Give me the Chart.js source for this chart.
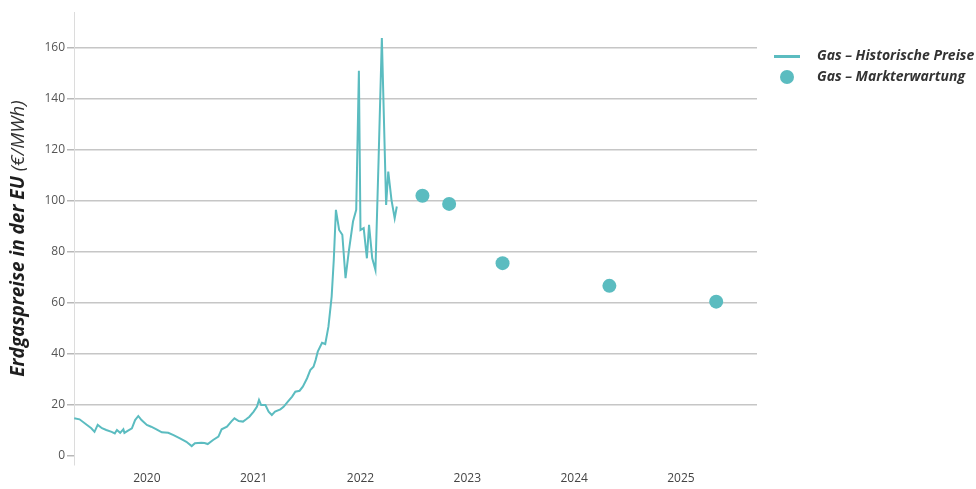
<!DOCTYPE html>
<html>
<head>
<meta charset="utf-8">
<script src="https://cdn.jsdelivr.net/npm/chart.js@4.4.1/dist/chart.umd.min.js"></script>
<style>
  html, body { margin: 0; padding: 0; background: #fff; }
  #wrap { width: 976px; height: 489px; }
</style>
</head>
<body>
<div id="wrap"><canvas id="gasChart" width="976" height="489"></canvas></div>
<script>
// historische Preise (Jahr als Dezimalzahl)
const histYears = [2019.32, 2019.37, 2019.44, 2019.48, 2019.51, 2019.54, 2019.58, 2019.62, 2019.67, 2019.70,
    2019.72, 2019.75, 2019.78, 2019.79, 2019.82, 2019.86, 2019.89, 2019.92, 2019.95, 2020.00,
    2020.04, 2020.09, 2020.14, 2020.20, 2020.25, 2020.31, 2020.37, 2020.42, 2020.45, 2020.51,
    2020.54, 2020.57, 2020.62, 2020.67, 2020.70, 2020.75, 2020.79, 2020.82, 2020.86, 2020.90,
    2020.93, 2020.96, 2021.00, 2021.03, 2021.05, 2021.07, 2021.11, 2021.14, 2021.17, 2021.20,
    2021.25, 2021.28, 2021.32, 2021.36, 2021.39, 2021.43, 2021.46, 2021.50, 2021.53, 2021.56,
    2021.58, 2021.60, 2021.64, 2021.67, 2021.70, 2021.73, 2021.75, 2021.77, 2021.80, 2021.83,
    2021.86, 2021.89, 2021.93, 2021.96, 2021.985, 2022.00, 2022.03, 2022.06, 2022.08, 2022.11,
    2022.14, 2022.17, 2022.20, 2022.24, 2022.26, 2022.29, 2022.32, 2022.34];
const histPrices = [14.8, 14.4, 12.2, 10.9, 9.5, 12.2, 10.9, 10.2, 9.5, 8.9,
    10.2, 9.1, 10.5, 9.1, 9.9, 10.9, 14.1, 15.7, 14.1, 12.2,
    11.5, 10.5, 9.3, 9.1, 8.2, 6.9, 5.6, 3.9, 5.0, 5.2,
    5.1, 4.7, 6.3, 7.6, 10.5, 11.5, 13.5, 14.8, 13.7, 13.5,
    14.4, 15.4, 17.4, 19.3, 22.0, 20.0, 20.0, 17.4, 16.1, 17.4,
    18.3, 19.3, 21.3, 23.3, 25.2, 25.6, 27.2, 30.5, 33.7, 35.0,
    37.6, 40.9, 44.4, 43.9, 50.7, 62.5, 76.9, 96.5, 88.6, 86.7,
    69.7, 80.0, 91.9, 96.5, 151.0, 88.6, 89.3, 77.5, 90.6, 77.5,
    72.9, 117.0, 163.8, 98.4, 111.5, 100.4, 93.2, 97.8];

// Markterwartung
const forecastYears = [2022.58, 2022.83, 2023.33, 2024.33, 2025.33];
const forecastPrices = [102.0, 98.8, 75.6, 66.7, 60.5];

const xTickYears = [2020, 2021, 2022, 2023, 2024, 2025];
const yTickValues = [0, 20, 40, 60, 80, 100, 120, 140, 160];

const teal = '#5bbcc0';

// legend icons
const lineIcon = document.createElement('canvas');
lineIcon.width = 26; lineIcon.height = 3;
lineIcon.getContext('2d').fillStyle = teal;
lineIcon.getContext('2d').fillRect(0, 0, 26, 3);

const dotIcon = document.createElement('canvas');
dotIcon.width = 14; dotIcon.height = 14;
const dctx = dotIcon.getContext('2d');
dctx.fillStyle = teal;
dctx.beginPath(); dctx.arc(7, 7, 7, 0, Math.PI * 2); dctx.fill();

// y axis title with mixed weights
const yTitlePlugin = {
    id: 'yTitle',
    afterDraw(chart) {
        const ctx = chart.ctx;
        const area = chart.chartArea;
        const a = 'Erdgaspreise in der EU ';
        const b = '(€/MWh)';
        ctx.save();
        ctx.translate(19, (area.top + area.bottom) / 2);
        ctx.rotate(-Math.PI / 2);
        ctx.textBaseline = 'middle';
        ctx.font = 'italic bold 19px "Open Sans"';
        const wa = ctx.measureText(a).width;
        ctx.font = 'italic 19px "Open Sans"';
        const wb = ctx.measureText(b).width;
        const start = -(wa + wb) / 2;
        ctx.fillStyle = '#1e1e1e';
        ctx.font = 'italic bold 19px "Open Sans"';
        ctx.textAlign = 'left';
        ctx.fillText(a, start, 0);
        ctx.fillStyle = '#333';
        ctx.font = 'italic 19px "Open Sans"';
        ctx.fillText(b, start + wa, 0);
        ctx.restore();
    }
};

const ctx = document.getElementById('gasChart').getContext('2d');
const gasChart = new Chart(ctx, {
    type: 'scatter',
    data: {
        datasets: [{
            label: 'Gas – Historische Preise',
            data: histYears.map((x, i) => ({ x: x, y: histPrices[i] })),
            showLine: true,
            borderColor: teal,
            backgroundColor: teal,
            borderWidth: 2,
            pointRadius: 0,
            tension: 0
        }, {
            label: 'Gas – Markterwartung',
            data: forecastYears.map((x, i) => ({ x: x, y: forecastPrices[i] })),
            backgroundColor: teal,
            borderWidth: 0,
            pointRadius: 7
        }]
    },
    options: {
        responsive: false,
        animation: false,
        devicePixelRatio: 1,
        layout: {
            padding: { top: 12, right: 0, bottom: 0, left: 0 }
        },
        scales: {
            x: {
                type: 'linear',
                min: 2019.318,
                max: 2025.712,
                afterBuildTicks: scale => { scale.ticks = xTickYears.map(v => ({ value: v })); },
                afterFit: scale => { scale.height = 24; },
                grid: { display: false, drawTicks: false },
                border: { display: false },
                ticks: {
                    padding: 6,
                    color: '#444',
                    font: { family: 'Open Sans', size: 12 },
                    callback: v => String(v)
                }
            },
            y: {
                min: -3.5,
                max: 174,
                afterBuildTicks: scale => { scale.ticks = yTickValues.map(v => ({ value: v })); },
                afterFit: scale => { scale.width = 74; },
                grid: {
                    color: c => (c.tick && c.tick.value === 0) ? 'rgba(0,0,0,0)' : '#c6c6c6',
                    lineWidth: 1.5,
                    tickColor: '#b8b8b8',
                    tickLength: 7
                },
                border: { display: true, color: '#dcdcdc', width: 1 },
                ticks: {
                    padding: 2,
                    color: '#555',
                    font: { family: 'Open Sans', size: 12 }
                }
            }
        },
        plugins: {
            tooltip: { enabled: false },
            legend: {
                position: 'right',
                align: 'start',
                maxWidth: 219,
                title: {
                    display: true,
                    text: '',
                    padding: { top: 0, bottom: 15.6 }
                },
                labels: {
                    usePointStyle: true,
                    pointStyleWidth: 46,
                    padding: 7,
                    color: '#333',
                    font: { family: 'Open Sans', size: 14, style: 'italic', weight: 'bold' },
                    generateLabels: chart => {
                        const items = Chart.defaults.plugins.legend.labels.generateLabels(chart);
                        items[0].pointStyle = lineIcon;
                        items[1].pointStyle = dotIcon;
                        return items;
                    }
                }
            }
        }
    },
    plugins: [yTitlePlugin]
});
</script>
</body>
</html>
